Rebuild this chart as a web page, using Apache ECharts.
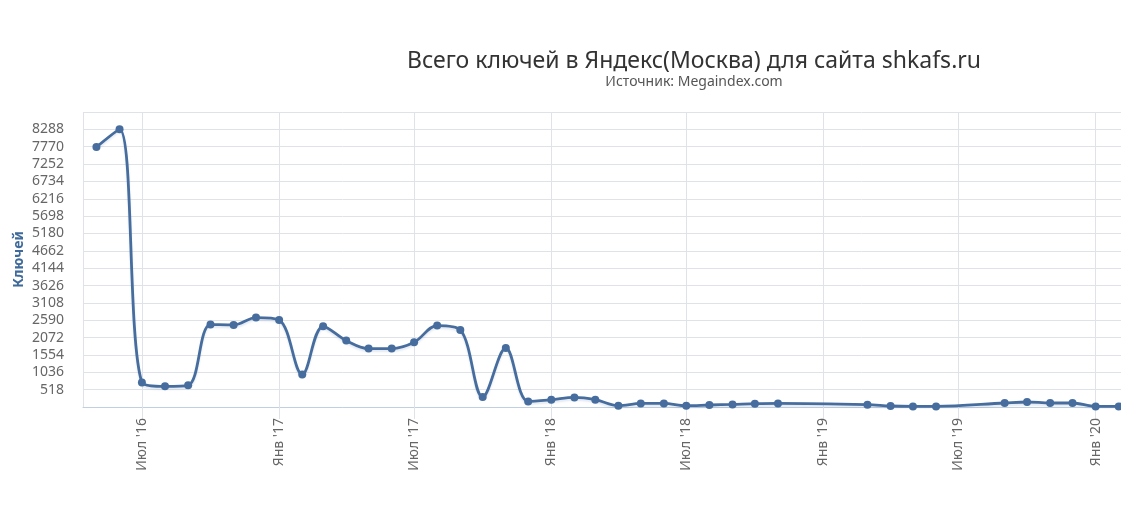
<!DOCTYPE html>
<html lang="ru">
<head>
    <meta charset="UTF-8">
    <title>Всего ключей в Яндекс(Москва)</title>
    <script src="https://cdn.jsdelivr.net/npm/echarts@6/dist/echarts.min.js"></script>
    <style>
        html, body { margin: 0; padding: 0; background: #fff; }
        #main { width: 1121px; height: 527px; }
    </style>
</head>
<body>
<div id="main"></div>

<script type="text/javascript">
    // месяцы, за которые есть данные (точки на 1-е число)
    var months = [
        '2016-05', '2016-06', '2016-07', '2016-08', '2016-09', '2016-10', '2016-11', '2016-12',
        '2017-01', '2017-02', '2017-03', '2017-04', '2017-05', '2017-06', '2017-07', '2017-08',
        '2017-09', '2017-10', '2017-11', '2017-12',
        '2018-01', '2018-02', '2018-03', '2018-04', '2018-05', '2018-06', '2018-07', '2018-08',
        '2018-09', '2018-10', '2018-11',
        '2019-03', '2019-04', '2019-05', '2019-06',
        '2019-09', '2019-10', '2019-11', '2019-12',
        '2020-01', '2020-02'
    ];
    var keys = [
        7760, 8288, 735, 616, 646, 2460, 2451, 2669,
        2600, 968, 2409, 1982, 1743, 1743, 1931, 2430,
        2301, 299, 1764, 167,
        218, 287, 218, 39, 108, 108, 39, 60,
        78, 99, 108,
        69, 30, 18, 18,
        120, 150, 120, 120,
        18, 18
    ];
    var monthNames = ['Янв', 'Фев', 'Мар', 'Апр', 'Май', 'Июн', 'Июл', 'Авг', 'Сен', 'Окт', 'Ноя', 'Дек'];
    var yStep = 518;

    function toTime(s) {
        var p = s.split('-');
        return new Date(+p[0], +p[1] - 1, 1).getTime();
    }

    var points = months.map(function (m, i) { return [toTime(m), keys[i]]; });

    var myChart = echarts.init(document.getElementById('main'));

    var option = {
        animation: false,
        title: {
            text: 'Всего ключей в Яндекс(Москва) для сайта shkafs.ru',
            subtext: 'Источник: Megaindex.com',
            left: 689,
            textAlign: 'center',
            top: 45,
            itemGap: 2,
            textStyle: {
                fontFamily: 'Noto Sans',
                fontSize: 23,
                fontWeight: 'normal',
                color: '#333'
            },
            subtextStyle: {
                fontFamily: 'Noto Sans',
                fontSize: 14,
                color: '#555'
            }
        },
        grid: {
            left: 83,
            right: 0,
            top: 112,
            bottom: 120,
            containLabel: false,
            outerBoundsMode: 'none'
        },
        xAxis: {
            type: 'time',
            min: new Date(2016, 3, 13).getTime(),
            max: new Date(2020, 1, 4).getTime(),
            minInterval: 180 * 24 * 3600 * 1000,
            maxInterval: 185 * 24 * 3600 * 1000,
            axisLine: { lineStyle: { color: '#c0d0e0', width: 1 } },
            axisTick: { show: true, length: 12, lineStyle: { color: '#dfe3e8' } },
            splitLine: { show: true, lineStyle: { color: '#dfe3e8', width: 1 } },
            axisLabel: {
                rotate: 90,
                margin: 11,
                fontFamily: 'Noto Sans',
                fontSize: 14,
                color: '#666',
                showMinLabel: false,
                showMaxLabel: false,
                formatter: function (v) {
                    var d = new Date(v);
                    return monthNames[d.getMonth()] + " '" + String(d.getFullYear()).slice(2);
                }
            }
        },
        yAxis: {
            type: 'value',
            min: 0,
            max: yStep * 17,
            interval: yStep,
            name: 'Ключей',
            nameLocation: 'middle',
            nameRotate: 90,
            nameGap: 57,
            nameMoveOverlap: false,
            nameTextStyle: {
                fontFamily: 'Noto Sans',
                fontSize: 14,
                fontWeight: 'bold',
                color: '#3f6a9a'
            },
            axisLine: { show: false },
            axisTick: { show: false },
            splitLine: { lineStyle: { color: '#dfe3e8', width: 1 } },
            axisLabel: {
                margin: 19,
                fontFamily: 'Noto Sans',
                fontSize: 14,
                color: '#666',
                formatter: function (v) {
                    if (v === 0 || v === yStep * 17) return '';
                    return String(v);
                }
            }
        },
        series: [
            {
                name: 'Ключей',
                type: 'line',
                data: points,
                smooth: 0.35,
                symbol: 'circle',
                symbolSize: 8,
                itemStyle: { color: '#466d9e' },
                lineStyle: {
                    color: '#466d9e',
                    width: 2.8,
                    shadowColor: 'rgba(70,109,158,0.15)',
                    shadowBlur: 2,
                    shadowOffsetY: 2
                }
            }
        ]
    };

    myChart.setOption(option);
</script>
</body>
</html>
